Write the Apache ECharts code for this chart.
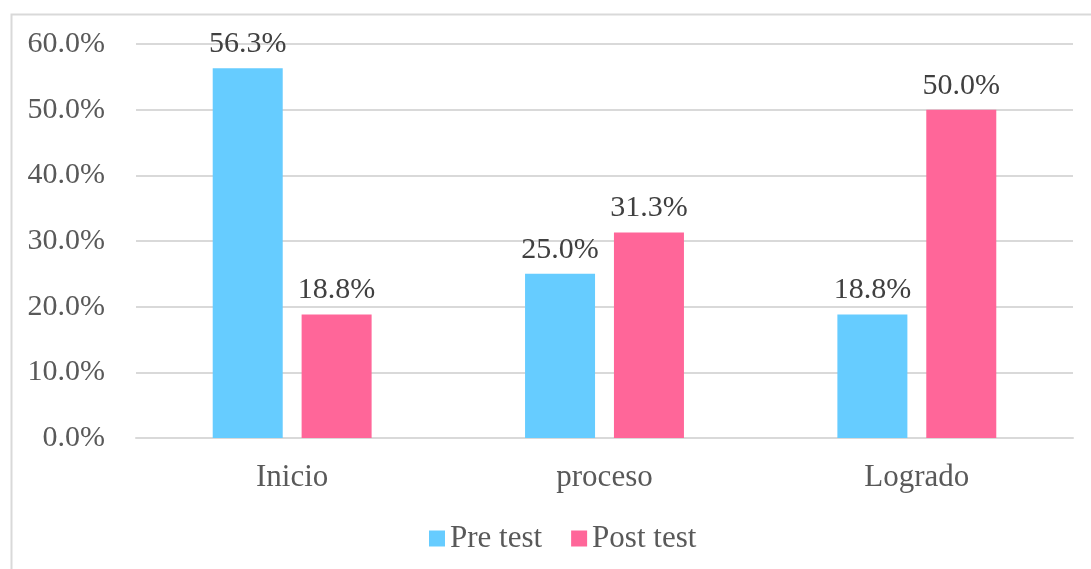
<!DOCTYPE html>
<html><head><meta charset="utf-8">
<script src="https://cdn.jsdelivr.net/npm/echarts@6/dist/echarts.min.js"></script>
<style>html,body{margin:0;padding:0;background:#fff}#c{width:1091px;height:569px}</style>
</head><body><div id="c"></div>
<script>
var categories = ['Inicio', 'proceso', 'Logrado'];
var preTest = [56.3, 25.0, 18.8];
var postTest = [18.8, 31.3, 50.0];
var yTicks = [0, 10, 20, 30, 40, 50, 60];

var FONT = '"Liberation Serif", "Times New Roman", serif';
var chart = echarts.init(document.getElementById('c'));
var lbl = {
  show: true, position: 'top', distance: 9,
  fontFamily: FONT, fontSize: 30, color: '#404040',
  formatter: function (p) { return p.value.toFixed(1) + '%'; }
};
chart.setOption({
  animation: false,
  backgroundColor: '#fff',
  graphic: [{
    type: 'rect', left: 9, top: 12,
    shape: { x: 0, y: 0, width: 1200, height: 700 },
    style: { fill: 'none', stroke: '#d9d9d9', lineWidth: 2 }, silent: true, z: -1
  }],
  grid: { left: 136, right: 18, top: 44, bottom: 131 },
  legend: {
    top: 518, left: 424,
    itemWidth: 16, itemHeight: 16, itemGap: 29,
    icon: 'rect',
    textStyle: { fontFamily: FONT, fontSize: 31, color: '#595959' },
    data: ['Pre test', 'Post test']
  },
  xAxis: {
    type: 'category', data: categories,
    axisLine: { lineStyle: { color: '#d9d9d9', width: 2 } },
    axisTick: { show: false },
    axisLabel: { fontFamily: FONT, fontSize: 31, color: '#595959', margin: 24 }
  },
  yAxis: {
    type: 'value', min: yTicks[0], max: yTicks[yTicks.length - 1], interval: 10,
    axisLine: { show: false }, axisTick: { show: false },
    splitLine: { lineStyle: { color: '#d9d9d9', width: 2 } },
    axisLabel: { fontFamily: FONT, fontSize: 30, color: '#595959', margin: 31,
      formatter: function (v) { return v.toFixed(1) + '%'; } }
  },
  series: [
    { name: 'Pre test', type: 'bar', data: preTest, barWidth: 70, barGap: '27%',
      itemStyle: { color: '#66CCFF' }, label: lbl },
    { name: 'Post test', type: 'bar', data: postTest, barWidth: 70,
      itemStyle: { color: '#FF6699' }, label: lbl }
  ]
});
</script></body></html>
